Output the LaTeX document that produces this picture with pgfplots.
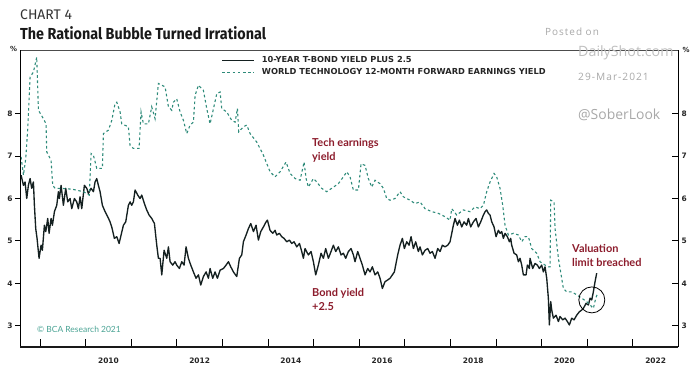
\documentclass[border=0pt]{standalone}
\usepackage{pgfplots}
\usepackage{pgfplotstable}
\pgfplotsset{compat=1.18}
\usepackage{fontspec}
\setmainfont{Lato}
\newfontfamily\tickfont{DejaVu Sans}
\newfontfamily\titlefont{Fira Sans}
\newfontfamily\labfont{Lato}
\newfontfamily\wmopen{Open Sans}
\newfontfamily\wmfont{Open Sans}[LetterSpace=10]
\newfontfamily\legfont{DejaVu Sans}
\definecolor{teal1}{HTML}{2E8B7A}
\definecolor{tealc}{HTML}{4AA394}
\definecolor{dred}{HTML}{8C1C2C}
\definecolor{lineblk}{HTML}{142020}
\definecolor{wm}{HTML}{A8A8A8}

\pgfplotstableread{
year val
2008.584 6.55
2008.635 6.31
2008.671 6.39
2008.708 6.00
2008.744 6.31
2008.781 6.47
2008.817 6.24
2008.854 6.39
2008.876 5.84
2008.905 5.29
2008.934 5.06
2008.978 4.59
2009.022 4.90
2009.051 4.78
2009.095 5.37
2009.125 5.22
2009.168 5.53
2009.198 5.18
2009.241 5.53
2009.271 5.37
2009.315 5.69
2009.366 5.84
2009.402 6.16
2009.424 6.00
2009.461 6.31
2009.512 5.84
2009.563 6.24
2009.607 5.92
2009.658 6.00
2009.695 5.76
2009.753 6.00
2009.804 5.92
2009.841 5.76
2009.877 6.04
2009.914 5.76
2009.972 6.31
2010.024 6.24
2010.060 6.12
2010.119 6.24
2010.170 6.16
2010.206 6.39
2010.243 6.47
2010.279 6.31
2010.316 6.16
2010.367 5.84
2010.426 5.69
2010.484 5.57
2010.535 5.45
2010.572 5.33
2010.630 5.06
2010.682 5.10
2010.733 4.94
2010.777 5.14
2010.828 5.37
2010.879 5.45
2010.937 5.84
2010.974 5.92
2011.010 5.84
2011.047 5.92
2011.084 6.20
2011.142 6.08
2011.193 6.00
2011.230 6.08
2011.288 5.88
2011.339 5.73
2011.391 5.61
2011.449 5.53
2011.508 5.41
2011.559 4.90
2011.595 4.59
2011.632 4.59
2011.669 4.20
2011.720 4.78
2011.778 4.59
2011.815 4.86
2011.851 4.51
2011.910 4.43
2011.961 4.51
2011.997 4.43
2012.056 4.35
2012.107 4.51
2012.158 4.43
2012.202 4.86
2012.253 4.59
2012.305 4.43
2012.363 4.27
2012.421 4.12
2012.473 4.20
2012.524 3.96
2012.582 4.16
2012.641 4.27
2012.692 4.12
2012.728 4.35
2012.787 4.12
2012.838 4.27
2012.889 4.12
2012.948 4.31
2013.021 4.35
2013.079 4.43
2013.131 4.51
2013.182 4.39
2013.240 4.27
2013.313 4.16
2013.372 4.59
2013.423 4.67
2013.459 4.98
2013.518 5.14
2013.569 5.29
2013.620 5.41
2013.679 5.22
2013.737 5.37
2013.788 5.02
2013.840 5.22
2013.898 5.33
2013.957 5.45
2013.986 5.49
2014.044 5.25
2014.103 5.18
2014.154 5.25
2014.190 5.14
2014.249 5.18
2014.300 5.10
2014.351 5.06
2014.410 4.98
2014.468 5.02
2014.519 4.94
2014.571 4.98
2014.629 4.86
2014.688 4.94
2014.739 4.75
2014.775 4.59
2014.811 4.82
2014.884 4.67
2014.943 4.75
2014.994 4.51
2015.045 4.20
2015.103 4.43
2015.162 4.71
2015.213 4.59
2015.264 4.82
2015.323 4.59
2015.381 4.75
2015.432 4.90
2015.484 4.75
2015.542 4.86
2015.600 4.67
2015.652 4.71
2015.703 4.59
2015.761 4.75
2015.820 4.82
2015.871 4.67
2015.907 4.51
2015.966 4.75
2016.017 4.59
2016.068 4.43
2016.127 4.20
2016.185 4.35
2016.236 4.27
2016.288 4.39
2016.346 4.20
2016.405 4.27
2016.456 4.12
2016.507 3.88
2016.565 4.04
2016.624 4.08
2016.675 4.12
2016.726 4.20
2016.770 4.27
2016.799 4.43
2016.843 4.67
2016.894 4.90
2016.946 5.06
2016.989 4.82
2017.041 4.98
2017.092 4.90
2017.136 5.10
2017.187 4.82
2017.238 4.98
2017.296 4.75
2017.333 4.86
2017.384 4.67
2017.443 4.78
2017.501 4.82
2017.552 4.71
2017.603 4.75
2017.662 4.59
2017.720 4.82
2017.772 4.75
2017.823 4.90
2017.881 4.86
2017.940 4.90
2017.991 4.98
2018.064 5.37
2018.101 5.53
2018.152 5.37
2018.196 5.49
2018.247 5.33
2018.298 5.45
2018.356 5.37
2018.393 5.53
2018.444 5.33
2018.503 5.45
2018.561 5.53
2018.612 5.33
2018.664 5.45
2018.722 5.61
2018.759 5.69
2018.795 5.73
2018.832 5.65
2018.868 5.61
2018.905 5.45
2018.956 5.33
2019.000 5.10
2019.051 5.25
2019.087 5.18
2019.124 5.22
2019.161 5.06
2019.197 5.18
2019.248 5.10
2019.292 4.98
2019.321 5.06
2019.343 4.90
2019.395 4.71
2019.453 4.67
2019.490 4.51
2019.526 4.59
2019.563 4.43
2019.599 4.20
2019.658 4.20
2019.687 4.43
2019.731 4.35
2019.745 4.59
2019.804 4.35
2019.855 4.47
2019.906 4.43
2019.950 4.35
2020.001 4.43
2020.038 4.27
2020.074 4.39
2020.111 4.12
2020.147 3.65
2020.169 3.02
2020.199 3.57
2020.221 3.37
2020.257 3.18
2020.316 3.25
2020.367 3.10
2020.403 3.22
2020.462 3.14
2020.513 3.18
2020.564 3.10
2020.608 3.02
2020.659 3.18
2020.710 3.14
2020.769 3.25
2020.827 3.33
2020.878 3.37
2020.915 3.41
2020.974 3.53
2021.025 3.49
2021.061 3.65
2021.098 3.61
2021.134 3.80
2021.171 4.04
2021.207 4.24
}\bond

\pgfplotstableread{
year val
2008.584 6.98
2008.635 6.55
2008.686 6.94
2008.730 7.65
2008.781 8.86
2008.854 8.98
2008.927 9.33
2008.964 8.08
2009.073 7.88
2009.132 7.76
2009.146 7.10
2009.241 6.90
2009.278 6.31
2009.329 6.24
2009.439 6.24
2009.700 6.22
2009.950 6.16
2010.080 6.08
2010.119 7.06
2010.170 7.02
2010.243 6.71
2010.367 6.71
2010.389 7.53
2010.499 7.61
2010.572 7.84
2010.645 8.24
2010.682 8.27
2010.755 8.04
2010.791 7.76
2010.937 7.69
2010.974 7.25
2011.047 7.18
2011.171 7.18
2011.215 8.04
2011.266 7.76
2011.376 7.76
2011.449 8.16
2011.522 7.88
2011.595 8.71
2011.742 8.63
2011.815 8.16
2011.888 8.08
2011.924 8.27
2011.997 8.35
2012.071 8.04
2012.144 7.84
2012.217 7.53
2012.290 7.73
2012.363 7.80
2012.400 8.43
2012.473 8.67
2012.582 8.55
2012.655 8.12
2012.728 7.76
2012.787 8.04
2012.875 8.47
2012.948 8.51
2012.984 8.12
2013.094 8.04
2013.204 7.84
2013.277 7.80
2013.328 8.12
2013.357 7.57
2013.459 7.69
2013.533 7.73
2013.606 7.53
2013.752 7.33
2013.898 7.02
2014.044 6.63
2014.154 6.51
2014.264 6.63
2014.395 6.86
2014.483 6.59
2014.593 6.47
2014.702 6.43
2014.790 6.86
2014.834 6.47
2014.884 6.27
2014.994 6.47
2015.067 6.39
2015.176 6.24
2015.286 6.16
2015.396 6.24
2015.542 6.35
2015.652 6.51
2015.725 6.63
2015.798 6.51
2015.871 6.20
2015.981 6.20
2016.039 6.82
2016.127 6.78
2016.200 6.47
2016.273 6.27
2016.346 6.43
2016.456 6.35
2016.529 6.24
2016.602 6.00
2016.675 5.96
2016.785 6.00
2016.894 6.16
2016.967 6.04
2017.114 5.96
2017.223 5.88
2017.333 5.92
2017.443 5.76
2017.589 5.69
2017.735 5.65
2017.881 5.57
2017.990 5.49
2018.028 5.76
2018.137 5.61
2018.283 5.73
2018.430 5.69
2018.539 5.80
2018.649 5.76
2018.722 5.84
2018.795 6.16
2018.868 6.39
2018.956 6.59
2019.014 6.51
2019.087 6.24
2019.146 5.84
2019.197 5.37
2019.270 5.14
2019.380 5.18
2019.490 5.14
2019.563 4.98
2019.636 5.10
2019.709 5.10
2019.782 4.82
2019.892 4.71
2019.965 4.51
2020.074 4.43
2020.147 4.39
2020.184 4.39
2020.199 5.96
2020.272 5.92
2020.294 5.29
2020.367 4.59
2020.476 3.88
2020.550 3.80
2020.659 3.80
2020.769 3.73
2020.878 3.65
2020.988 3.57
2021.061 3.49
2021.134 3.41
2021.186 3.65
2021.222 3.75
}\tech

\pgfplotsset{
  base/.style={
    at={(0bp,0bp)}, anchor=south west,
    scale only axis, width=658bp, height=297bp,
    xmin=2008.56, xmax=2022.99, ymin=2.5, ymax=9.5,
    axis line style={draw=none},
    clip=false,
    ticklabel style={font=\tickfont\bfseries\fontsize{7.5}{9}\selectfont, text=black!85,
      /pgf/number format/assume math mode=true},
    tick style={black, line width=0.9pt},
  }
}

\begin{document}
\begin{tikzpicture}
\useasboundingbox (-20bp,-24bp) rectangle (680bp,347bp);

% axis with left y ticks and x labels
\begin{axis}[base,
  ytick={3,4,5,6,7,8}, ytick pos=left, tick align=outside, major tick length=5bp,
  xtick={2010.5,2012.5,2014.5,2016.5,2018.5,2020.5,2022.5},
  xticklabels={2010,2012,2014,2016,2018,2020,2022},
  xtick pos=bottom, x tick style={draw=none},
  xticklabel style={yshift=-2bp},
  yticklabel style={xshift=1bp},
]
\end{axis}

% axis with right y ticks
\begin{axis}[base,
  ytick={3,4,5,6,7,8}, ytick pos=right, yticklabel pos=right, tick align=inside, major tick length=6bp,
  xtick=\empty,
]
\end{axis}

% main data axis
\begin{axis}[base,
  xtick={2009,2010,...,2022}, xticklabels={}, xtick pos=bottom, tick align=inside, major tick length=8bp,
  ytick=\empty,
  legend style={at={(0.306,0.985)}, anchor=north west, draw=none, fill=none,
    font=\legfont\bfseries\fontsize{8.3}{8.5}\selectfont, text=black!85,
    row sep=0.3bp, inner sep=0pt,
    /tikz/every odd column/.append style={column sep=5bp}},
  legend cell align=left,
  legend image code/.code={\draw[#1] (0bp,0bp) -- (32bp,0bp);},
]
\addplot[lineblk, line width=1.35pt, line join=round] table[x=year,y=val]{\bond};
\addplot[teal1, line width=1.1pt, dash pattern=on 2.6bp off 2.6bp] table[x=year,y=val]{\tech};
\legend{10-YEAR T-BOND YIELD PLUS 2.5, WORLD TECHNOLOGY 12-MONTH FORWARD EARNINGS YIELD}

\draw[black!70, line width=0.7pt] (rel axis cs:0,1) -- (rel axis cs:1,1);
\draw[black, line width=0.9pt] (rel axis cs:0,0) -- (rel axis cs:0,1);
\draw[black, line width=0.9pt] (rel axis cs:1,0) -- (rel axis cs:1,1);
\draw[black!90, line width=1.6pt] (rel axis cs:0,0) -- (rel axis cs:1,0);

\draw[black, line width=0.8pt] (axis cs:2021.10,3.61) circle [radius=13bp];
\end{axis}

% titles
\node[anchor=base west, inner sep=0pt, font=\titlefont\fontsize{14}{16}\selectfont, text=black!80] at (0bp,327.5bp) {CHART 4};
\node[anchor=base west, inner sep=0pt, font=\titlefont\bfseries\fontsize{16}{18}\selectfont, text=black!90] at (0bp,307.7bp) {\scalebox{0.9}[1]{The Rational Bubble Turned Irrational}};

% percent signs
\node[font=\tickfont\bfseries\fontsize{7}{8}\selectfont, text=black!85] at (-6.5bp,298bp) {\%};
\node[font=\tickfont\bfseries\fontsize{7}{8}\selectfont, text=black!85] at (666bp,297bp) {\%};

% annotations
\node[anchor=north west, inner sep=0pt, align=left, font=\labfont\bfseries\fontsize{11}{14.5}\selectfont, text=dred] at (292bp,209bp) {Tech earnings\\yield};
\node[anchor=north west, inner sep=0pt, align=left, font=\labfont\bfseries\fontsize{11}{14.5}\selectfont, text=dred] at (292bp,59bp) {Bond yield\\+2.5};
\node[anchor=north west, inner sep=0pt, align=left, font=\labfont\bfseries\fontsize{11}{14.5}\selectfont, text=dred] at (552bp,103bp) {Valuation\\limit breached};
\node[anchor=west, inner sep=0pt, font=\fontsize{8.5}{10}\selectfont, text=tealc] at (17bp,18bp) {\textcopyright\ BCA Research 2021};

% watermark
\node[anchor=west, inner sep=0pt, font=\wmfont\fontsize{10}{11}\selectfont, text=wm] at (525bp,315bp) {Posted on};
\node[anchor=west, inner sep=0pt, font=\wmopen\fontsize{14.3}{16}\selectfont, text=black!25] at (558bp,294bp) {DailyShot.com};
\node[anchor=west, inner sep=0pt, font=\wmfont\fontsize{10.2}{11}\selectfont, text=wm] at (558bp,270bp) {29-Mar-2021};
\node[anchor=west, inner sep=0pt, font=\wmopen\fontsize{14}{16}\selectfont, text=wm] at (558bp,232bp) {@SoberLook};
\end{tikzpicture}
\end{document}
